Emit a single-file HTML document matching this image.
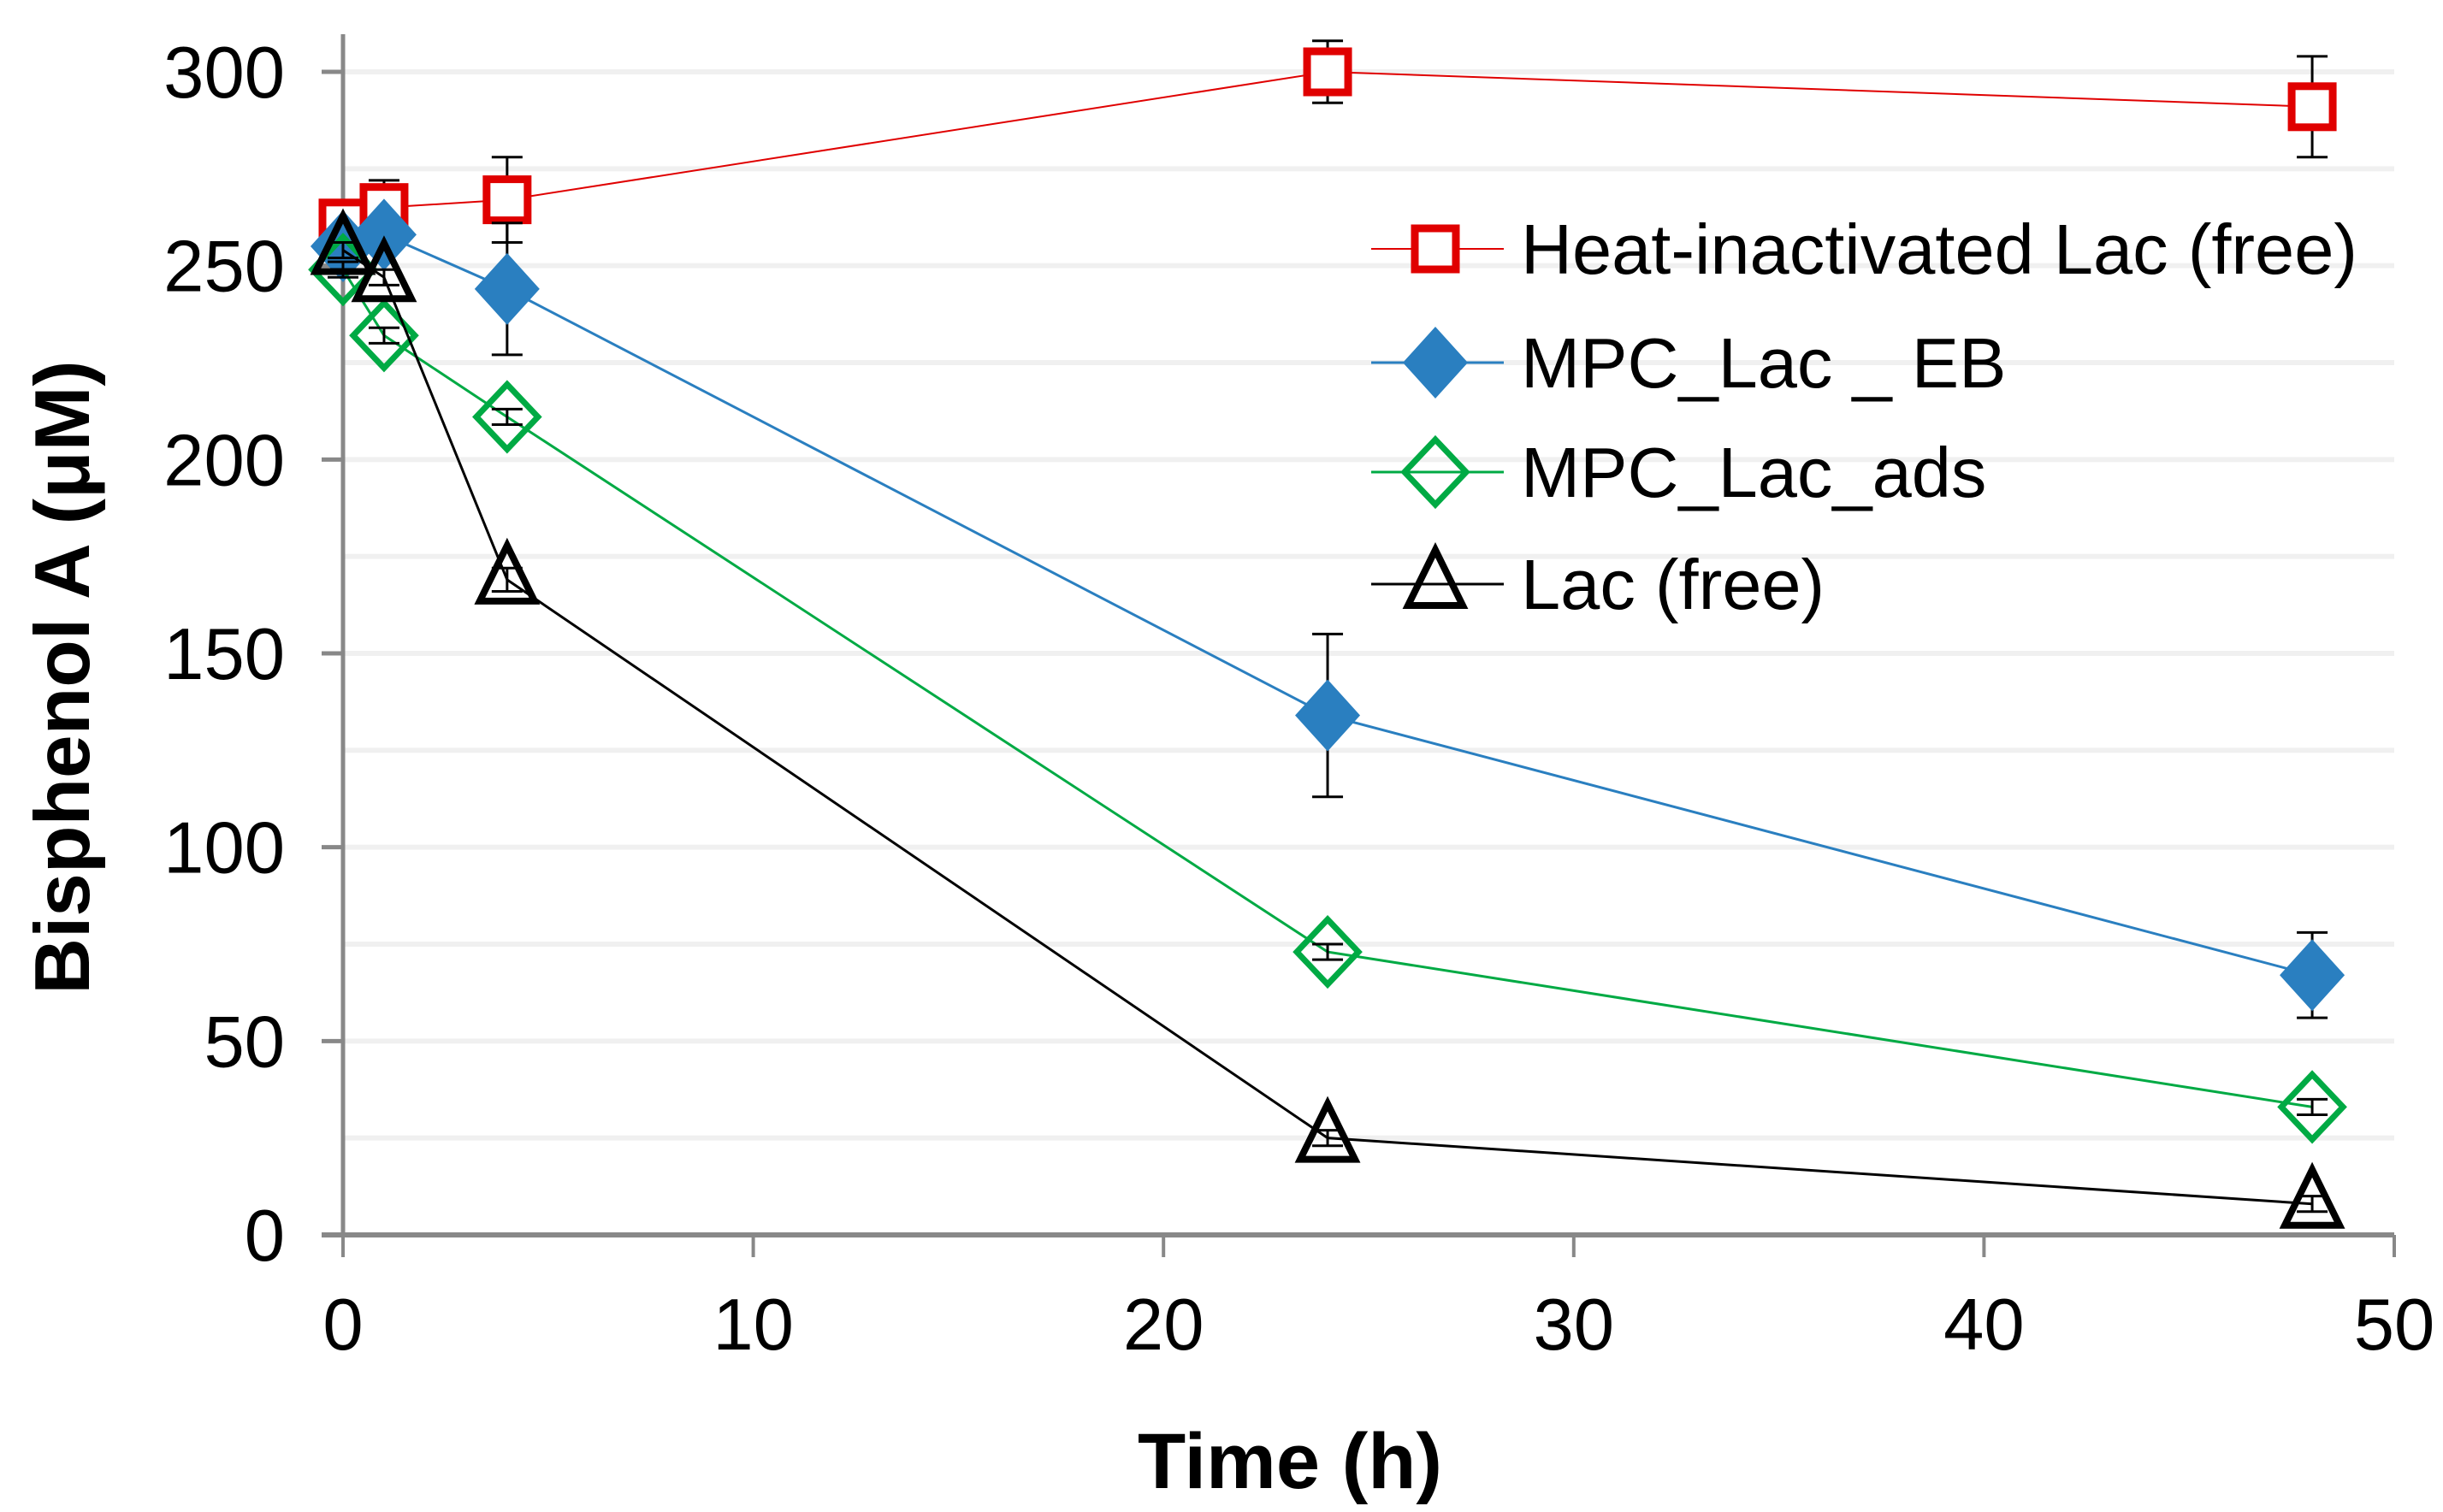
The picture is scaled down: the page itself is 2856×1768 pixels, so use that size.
<!DOCTYPE html>
<html><head><meta charset="utf-8"><style>
body{margin:0;background:#fff}
svg text{font-family:"Liberation Sans",sans-serif}
</style></head><body>
<svg id="c" width="2856" height="1763" viewBox="0 0 2856 1763"></svg>
<script>
const times=[0,1,4,24,48];
const heatVals=[261,265,267,300,291];
const heatErr=[2,7,11,8,13];
const ebVals=[255,258,244,134,67];
const ebErr=[2,3,17,21,11];
const adsVals=[249,232,211,73,33];
const adsErr=[2,2,2,2,2];
const lacVals=[254,247,169,25,8];
const lacErr=[2,2,3,2,2];
const yTicks=[0,50,100,150,200,250,300];
const xTicks=[0,10,20,30,40,50];
const seriesNames=["Heat-inactivated Lac (free)","MPC_Lac _ EB","MPC_Lac_ads","Lac (free)"];

const svg=document.getElementById('c');
const NS='http://www.w3.org/2000/svg';
const X=v=>401+(v-0)/50*(2799-401);
const Y=v=>1444-v/300*(1444-84);
function el(t,a,p){const e=document.createElementNS(NS,t);for(const k in a)e.setAttribute(k,a[k]);(p||svg).appendChild(e);return e;}

for(let v=25;v<=300;v+=25){const g=el('line',{x1:X(0),x2:X(50),y1:Y(v),y2:Y(v),stroke:'#f0f0f0','stroke-width':6});

}
const ya=el('line',{x1:X(0),x2:X(0),y1:40,y2:Y(0),stroke:'#888','stroke-width':5});


const xa=el('line',{x1:X(0)-25,x2:X(50),y1:Y(0),y2:Y(0),stroke:'#888','stroke-width':6});


yTicks.forEach(v=>{
 const t=el('line',{x1:X(0)-25,x2:X(0),y1:Y(v),y2:Y(v),stroke:'#888','stroke-width':5});
 
 
 const l=el('text',{x:333,y:Y(v)+30,'font-size':85,'text-anchor':'end',fill:'#000'});l.textContent=v;
 
 
});
xTicks.forEach(v=>{
 const t=el('line',{x1:X(v),x2:X(v),y1:Y(0),y2:Y(0)+26,stroke:'#888','stroke-width':4});
 
 
 const l=el('text',{x:X(v),y:1578,'font-size':85,'text-anchor':'middle',fill:'#000'});l.textContent=v;
 
 
});
const xt=el('text',{x:1508,y:1740,'font-size':92,'font-weight':'bold','text-anchor':'middle'});xt.textContent='Time (h)';


const yt=el('text',{x:0,y:0,'font-size':91,'font-weight':'bold','text-anchor':'middle',transform:'translate(104,792) rotate(-90)'});yt.textContent='Bisphenol A (μM)';



function marker(kind,cx,cy,color,g){
 if(kind==='sq')return el('rect',{x:cx-24,y:cy-24,width:48,height:48,fill:'#fff',stroke:color,'stroke-width':9},g);
 if(kind==='fd')return el('polygon',{points:`${cx},${cy-42} ${cx+38},${cy} ${cx},${cy+42} ${cx-38},${cy}`,fill:color},g);
 if(kind==='od')return el('polygon',{points:`${cx},${cy-38} ${cx+36},${cy} ${cx},${cy+38} ${cx-36},${cy}`,fill:'none',stroke:color,'stroke-width':7},g);
 return el('polygon',{points:`${cx},${cy-40} ${cx+32},${cy+25} ${cx-32},${cy+25}`,fill:'none',stroke:color,'stroke-width':8,'stroke-linejoin':'miter'},g);
}
const series=[
 {vals:heatVals,err:heatErr,color:'#e00000',kind:'sq',w:2,name:'series-heat-inactivated'},
 {vals:ebVals,err:ebErr,color:'#2a7fc0',kind:'fd',w:3,name:'series-mpc-lac-eb'},
 {vals:adsVals,err:adsErr,color:'#00aa44',kind:'od',w:3,name:'series-mpc-lac-ads'},
 {vals:lacVals,err:lacErr,color:'#000',kind:'tri',w:3,name:'series-lac-free'}];
series.forEach(s=>{
 const g=el('g',{});
 
 
 const pl=el('polyline',{points:times.map((t,i)=>X(t)+','+Y(s.vals[i])).join(' '),fill:'none',stroke:s.color,'stroke-width':s.w},g);
 
 
 times.forEach((t,i)=>{
  const x=X(t),y1=Y(s.vals[i]+s.err[i]),y2=Y(s.vals[i]-s.err[i]);
  const eb=el('path',{d:`M${x},${y1}V${y2}M${x-18},${y1}H${x+18}M${x-18},${y2}H${x+18}`,stroke:'#000','stroke-width':3,fill:'none'},g);
  
  
  const m=marker(s.kind,x,Y(s.vals[i]),s.color,g);
  
  
 });
});
const legY=[291,424,552,683];
series.forEach((s,i)=>{
 const g=el('g',{});
 
 
 el('line',{x1:1603,x2:1758,y1:legY[i],y2:legY[i],stroke:s.color,'stroke-width':s.w},g);
 marker(s.kind,1678,legY[i],s.color,g);
 const t=el('text',{x:1778,y:legY[i]+29,'font-size':83},g);t.textContent=seriesNames[i];
});
</script>
</body></html>
